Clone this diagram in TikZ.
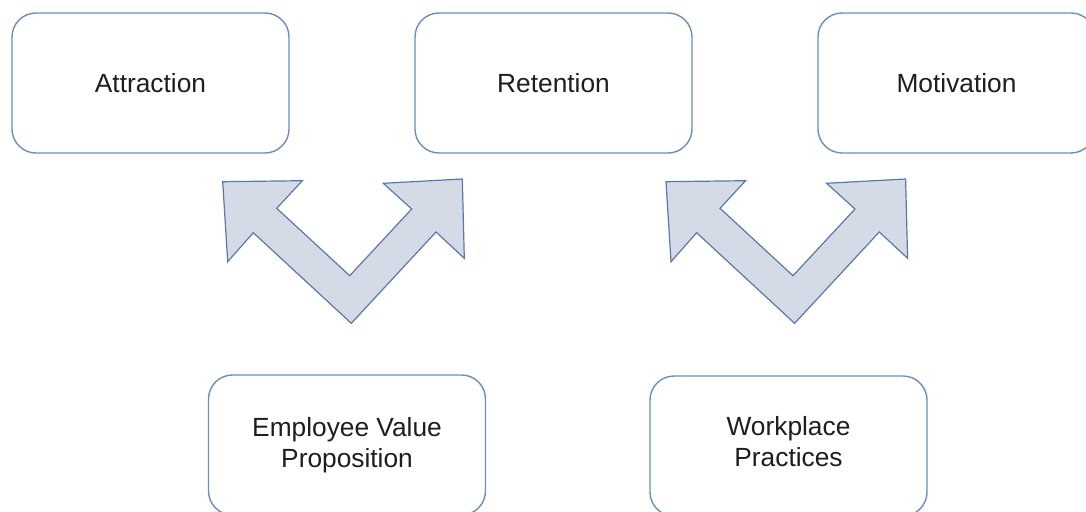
\documentclass[tikz,border=0pt]{standalone}
\usepackage{fontspec}
\setmainfont{Liberation Sans}
\definecolor{boxline}{HTML}{6C8EBF}
\definecolor{arrowfill}{HTML}{D5DBE6}
\definecolor{arrowline}{HTML}{5A78A8}
\definecolor{txt}{HTML}{1E1E1E}
\begin{document}
\begin{tikzpicture}[x=1pt,y=-1pt,
  cardtext/.style={text=txt, align=center, inner sep=0pt, font=\fontsize{26.3}{31}\selectfont},
  card/.style={cardtext, draw=boxline, line width=1.4pt, rounded corners=24pt, fill=white,
    minimum width=277pt, minimum height=140pt},
  forkarrow/.style={draw=arrowline, fill=arrowfill, line width=1.2pt, line join=miter}]
\useasboundingbox (0,0) rectangle (1086,511);
\clip (0,0) rectangle (1086,511);

% top row
\node[card] (attr) at (150.5,83) {Attraction};
\node[card] (ret)  at (553.5,83) {Retention};
\node[card] (mot)  at (956.5,83) {Motivation};

% bottom row
\node[card] (evp) at (347,445) {Employee Value\\Proposition};
\node[card] (wp)  at (788.5,446) {};
\node[cardtext] (wptext) at ([yshift=4pt]wp.center) {Workplace\\Practices};

% double-headed fork arrows
\foreach \dx in {0, 443.3}{
  \begin{scope}[shift={(\dx,0)}]
    \draw[forkarrow] (222.7,181.7) -- (302.3,180.7) -- (276.7,208.3)
      -- (349.7,275.7) -- (411.7,209) -- (383.3,183.3) -- (462.3,179)
      -- (464.3,258.3) -- (436,232) -- (351.3,323.3) -- (253.3,232.7)
      -- (227.7,261.7) -- cycle;
  \end{scope}
}
\end{tikzpicture}
\end{document}
